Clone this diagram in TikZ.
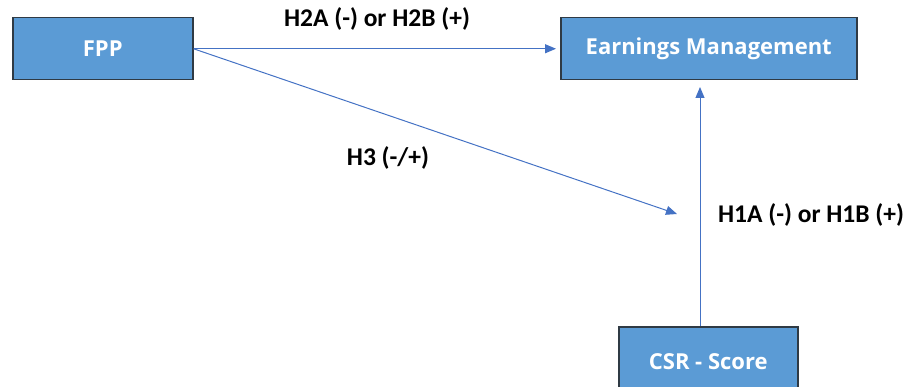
\documentclass[tikz,border=0pt]{standalone}
\usepackage{fontspec}
\setmainfont{Carlito}
\newfontfamily\boxfont{Open Sans}
\usetikzlibrary{arrows.meta}
\definecolor{boxfill}{HTML}{5B9BD5}
\definecolor{boxline}{HTML}{2F3A44}
\definecolor{arrowc}{HTML}{4472C4}
\begin{document}
\begin{tikzpicture}[x=1pt,y=-1pt,
  box/.style={draw=boxline,line width=1.5pt,fill=boxfill,text=white,font=\boxfont\fontsize{22}{26}\selectfont\bfseries,inner sep=0pt,anchor=north west},
  conn/.style={draw=arrowc,line width=1pt,-{Triangle[length=11pt,width=9pt]}},
  lab/.style={font=\fontsize{25.5}{28}\selectfont\bfseries,text=black,inner sep=0pt}]
\useasboundingbox (0,0) rectangle (909,387);
\node[box,minimum width=180pt,minimum height=62pt] (fpp) at (12,17) {FPP};
\node[box,minimum width=296pt,minimum height=62pt] (em) at (560,17) {Earnings Management};
\node[box,minimum width=179pt,minimum height=70pt] (csr) at (618,326) {CSR - Score};
\coordinate (diagend) at (677,214);
\draw[conn] (fpp.east) -- (em.west -| 556,0);
\draw[conn] (fpp.east) -- (diagend);
\draw[conn] (csr.north -| 700,0) -- (700,87);
\node[lab] (l2) at (377,19) {H2A (-) or H2B (+)};
\node[lab] (l3) at (388,158) {H3 (-/+)};
\node[lab] (l1) at (811,215) {H1A (-) or H1B (+)};
\end{tikzpicture}
\end{document}
